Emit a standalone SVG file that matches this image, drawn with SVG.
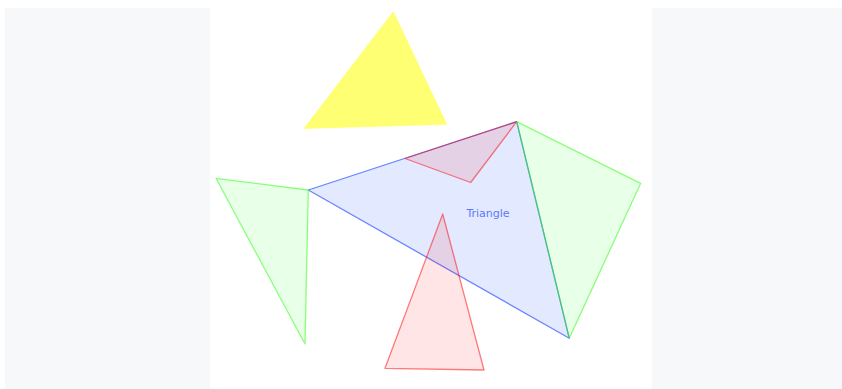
<svg xmlns="http://www.w3.org/2000/svg" width="842" height="389" viewBox="0 0 842 389">
<style>
.panel{fill:#f7f8fa}
.blue{fill:#0033ff;fill-opacity:0.11;stroke:#2f55ff;stroke-opacity:0.7;stroke-width:1.3;stroke-linejoin:round}
.red{fill:#ff0000;fill-opacity:0.1;stroke:#ff0000;stroke-opacity:0.5;stroke-width:1.3;stroke-linejoin:round}
.green{fill:#00ff00;fill-opacity:0.09;stroke:#22ff00;stroke-opacity:0.5;stroke-width:1.3;stroke-linejoin:round}
.yellow{fill:#ffff00;fill-opacity:0.55;stroke:#ffff00;stroke-opacity:0.3;stroke-width:1}
.label{font-family:"DejaVu Sans",sans-serif;font-size:11px;fill:#5b78ff;text-anchor:middle}
</style>
<rect width="842" height="389" fill="#ffffff"/>
<rect class="panel" x="5" y="8" width="205" height="381"/>
<rect class="panel" x="652" y="8" width="190" height="381"/>
<g id="yellow-triangle"><polygon class="yellow" points="393.3,11.7 304,128.5 446.7,124.3"/></g>
<g id="blue-triangle"><polygon class="blue" points="308.3,190 516.7,121.7 569.3,338.3"/><text class="label" x="488" y="216.5">Triangle</text></g>
<g id="red-small-triangle"><polygon class="red" points="405,158.5 516.7,121.7 470.7,182.5"/></g>
<g id="green-right-triangle"><polygon class="green" points="516.7,121.7 640.7,183.3 569.3,338.3"/></g>
<g id="green-left-triangle"><polygon class="green" points="216,178.3 308.3,190 305,344"/></g>
<g id="red-tall-triangle"><polygon class="red" points="442.7,214 385,368.3 484,370"/></g>
<g id="connectors"/>
</svg>
